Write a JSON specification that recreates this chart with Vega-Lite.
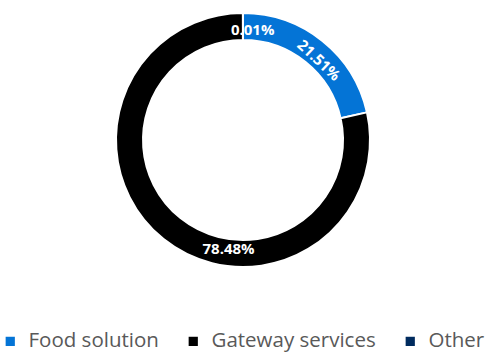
{
  "$schema": "https://vega.github.io/schema/vega-lite/v6.json",
  "width": 486,
  "height": 270,
  "padding": {"left": 0, "right": 3, "top": 5, "bottom": 0},
  "background": "white",
  "config": {"view": {"stroke": null}},
  "data": {
    "values": [
      {"Category": "Food solution", "Share": 21.51, "Order": 1},
      {"Category": "Gateway services", "Share": 78.48, "Order": 2},
      {"Category": "Other", "Share": 0.01, "Order": 3}
    ]
  },
  "transform": [
    {"calculate": "format(datum.Share, '.2f') + '%'", "as": "Label"}
  ],
  "encoding": {
    "order": {"field": "Order", "type": "quantitative"},
    "color": {
      "field": "Category",
      "type": "nominal",
      "scale": {
        "domain": ["Food solution", "Gateway services", "Other"],
        "range": ["#0474D6", "#000000", "#002B5E"]
      },
      "legend": {
        "orient": "bottom",
        "direction": "horizontal",
        "title": null,
        "offset": 56,
        "symbolType": "square",
        "symbolSize": 85,
        "symbolStrokeWidth": 0,
        "labelFont": "Open Sans",
        "labelFontSize": 20.5,
        "labelColor": "#595959",
        "labelOffset": 8,
        "labelLimit": 400,
        "columnPadding": 24,
        "symbolOffset": 0
      }
    }
  },
  "layer": [
    {
      "mark": {"type": "arc", "outerRadius": 127, "innerRadius": 100, "stroke": "white", "strokeWidth": 2},
      "encoding": {
        "theta": {"field": "Share", "type": "quantitative", "stack": true}
      }
    },
    {
      "transform": [
        {
          "calculate": "datum.Category == 'Food solution' ? 12.1 : datum.Category == 'Gateway services' ? 52.1 : 1.4",
          "as": "LabelPos"
        }
      ],
      "mark": {
        "type": "text",
        "radius": 110,
        "font": "Open Sans",
        "fontWeight": "bold",
        "fontSize": 15,
        "fill": "white",
        "align": "center",
        "baseline": "middle",
        "angle": {"expr": "datum.Category == 'Food solution' ? 43 : 0"}
      },
      "encoding": {
        "theta": {
          "field": "LabelPos",
          "type": "quantitative",
          "stack": null,
          "scale": {"domain": [0, 100], "range": [0, 6.283185]}
        },
        "text": {"field": "Label", "type": "nominal"},
        "color": {"value": "white"}
      }
    }
  ],
  "resolve": {"scale": {"theta": "independent"}}
}
